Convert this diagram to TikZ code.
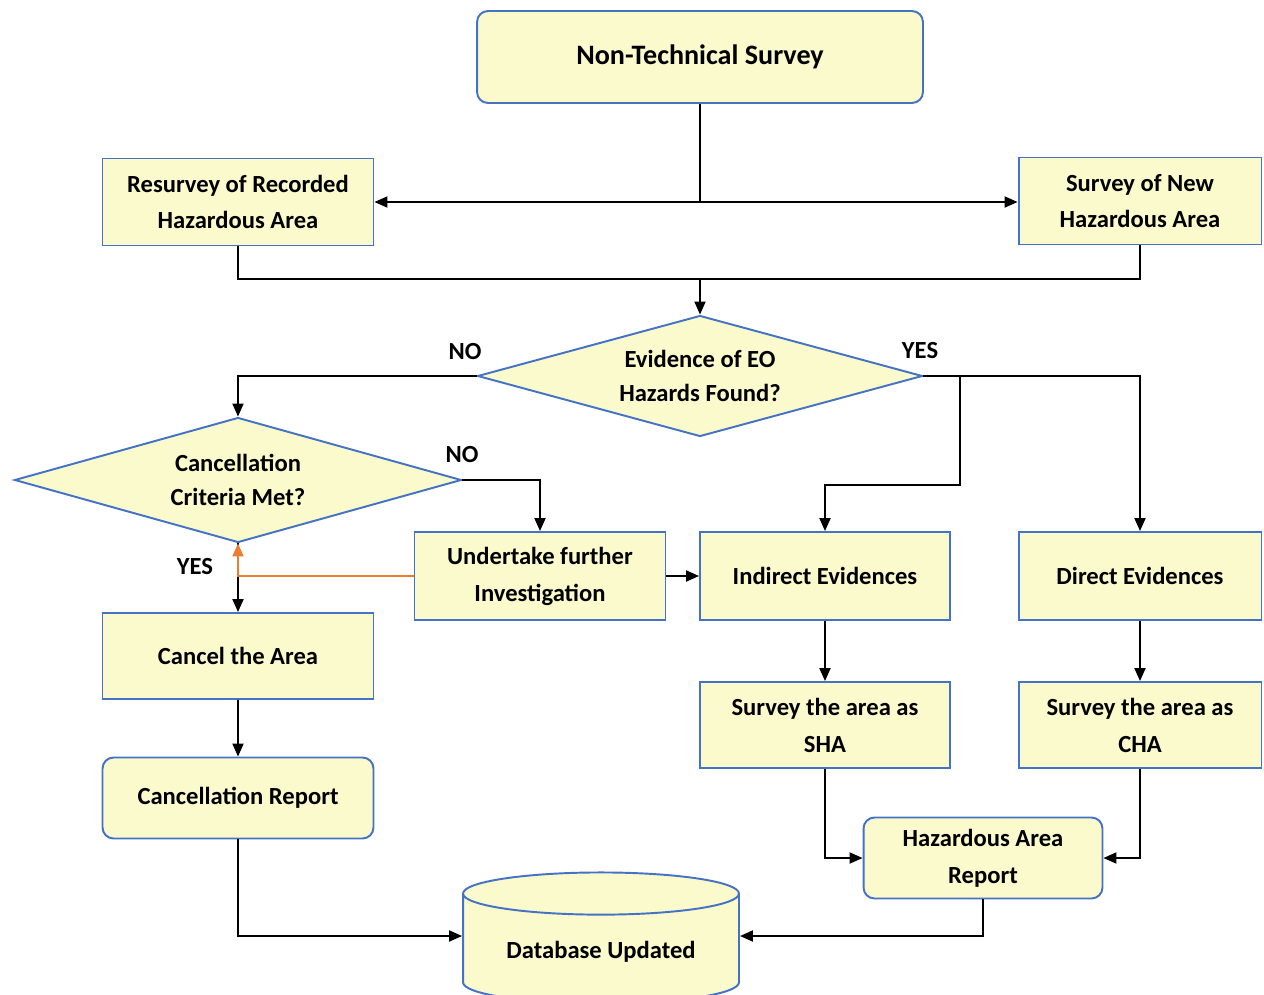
\documentclass[tikz,border=0pt]{standalone}
\usepackage{fontspec}
\setmainfont{Carlito}
\usepackage{xcolor}
\usepackage{tikz}
\usetikzlibrary{shapes.geometric, arrows.meta, positioning}
\definecolor{boxfill}{RGB}{251,250,204}
\definecolor{boxline}{RGB}{68,114,196}
\definecolor{backline}{RGB}{237,125,49}
\tikzset{
    myarrow/.style={-{Triangle[length=0.26cm, width=0.22cm]}, line width=1.1pt},
    link/.style={line width=1.1pt},
    box/.style={draw=boxline, line width=1.1pt, rectangle, fill=boxfill, font=\bfseries\fontsize{14}{21}\selectfont, minimum height=1.74cm, align=center, inner sep=0pt},
    roundbox/.style={box, rounded corners=0.22cm},
    decision/.style={draw=boxline, line width=1.1pt, diamond, fill=boxfill, font=\bfseries\fontsize{14}{19}\selectfont, aspect=3.6, inner sep=0pt, align=center},
    store/.style={draw=boxline, line width=1.1pt, cylinder, shape border rotate=90, aspect=0.21, cylinder uses custom fill, cylinder body fill=boxfill, cylinder end fill=boxfill, font=\bfseries\fontsize{14}{21}\selectfont},
    answer/.style={font=\bfseries\fontsize{14}{17}\selectfont}
}
\begin{document}
\begin{tikzpicture}[x=0.02cm, y=-0.02cm]
    \clip (0,0) rectangle (1264,994);
    \node (nts) [roundbox, minimum width=8.92cm, minimum height=1.84cm, font=\bfseries\fontsize{16}{20}\selectfont] at (700,57) {Non-Technical Survey};
    \node (resurvey) [box, minimum width=5.42cm] at (238,202) {Resurvey of Recorded\\Hazardous Area};
    \node (newsurvey) [box, minimum width=4.86cm] at (1140,201) {Survey of New\\Hazardous Area};
    \node (eo) [decision, minimum width=8.9cm, minimum height=2.42cm] at (700,376) {Evidence of EO\\Hazards Found?};
    \node (crit) [decision, minimum width=8.94cm, minimum height=2.5cm] at (238,480) {Cancellation\\Criteria Met?};
    \node (further) [box, minimum width=5.02cm, minimum height=1.76cm] at (540,576) {Undertake further\\Investigation};
    \node (indirect) [box, minimum width=5cm, minimum height=1.76cm] at (825,576) {Indirect Evidences};
    \node (direct) [box, minimum width=4.86cm, minimum height=1.76cm] at (1140,576) {Direct Evidences};
    \node (cancel) [box, minimum width=5.42cm, minimum height=1.72cm] at (238,656) {Cancel the Area};
    \node (report) [roundbox, minimum width=5.42cm, minimum height=1.62cm] at (238,798) {Cancellation Report};
    \node (sha) [box, minimum width=5cm, minimum height=1.72cm] at (825,725) {Survey the area as\\SHA};
    \node (cha) [box, minimum width=4.86cm, minimum height=1.72cm] at (1140,725) {Survey the area as\\CHA};
    \node (har) [roundbox, minimum width=4.78cm, minimum height=1.62cm] at (983,858) {Hazardous Area\\Report};
    \node (db) [store, minimum width=5.52cm, minimum height=2.62cm] at (601,952) {Database Updated};

    % answers
    \node (eono) [answer] at (465,352) {NO};
    \node (eoyes) [answer] at (920,351) {YES};
    \node (critno) [answer] at (462,455) {NO};
    \node (crityes) [answer] at (195,567) {YES};

    \coordinate (split) at (nts.south |- resurvey);
    \coordinate (join) at (700,279);
    \coordinate (fork) at (960,376);
    \coordinate (bend) at (960,485);

    \draw [link] (nts.south) -- (split);
    \draw [myarrow] (split) -- (resurvey.east);
    \draw [myarrow] (split) -- (newsurvey.west |- split);
    \draw [link] (resurvey.south) |- (join) -| (newsurvey.south);
    \draw [myarrow] (join) -- (eo.north);
    \draw [myarrow] (eo.west) -| (crit.north);
    \draw [myarrow] (eo.east) -| (direct.north);
    \draw [myarrow] (fork) -- (bend) -| (indirect.north);
    \draw [myarrow] (crit.east) -| (further.north);
    \draw [myarrow] (further) -- (indirect);
    \draw [myarrow] (crit.south) -- (cancel.north);
    \draw [myarrow, backline] (further.west) -| (crit.south);
    \draw [myarrow] (cancel) -- (report);
    \draw [myarrow] (indirect) -- (sha);
    \draw [myarrow] (direct) -- (cha);
    \draw [myarrow] (sha.south) |- (har.west);
    \draw [myarrow] (cha.south) |- (har.east);
    \draw [myarrow] (report.south) |- ([yshift=0.32cm]db.west);
    \draw [myarrow] (har.south) |- ([yshift=0.32cm]db.east);
\end{tikzpicture}
\end{document}
